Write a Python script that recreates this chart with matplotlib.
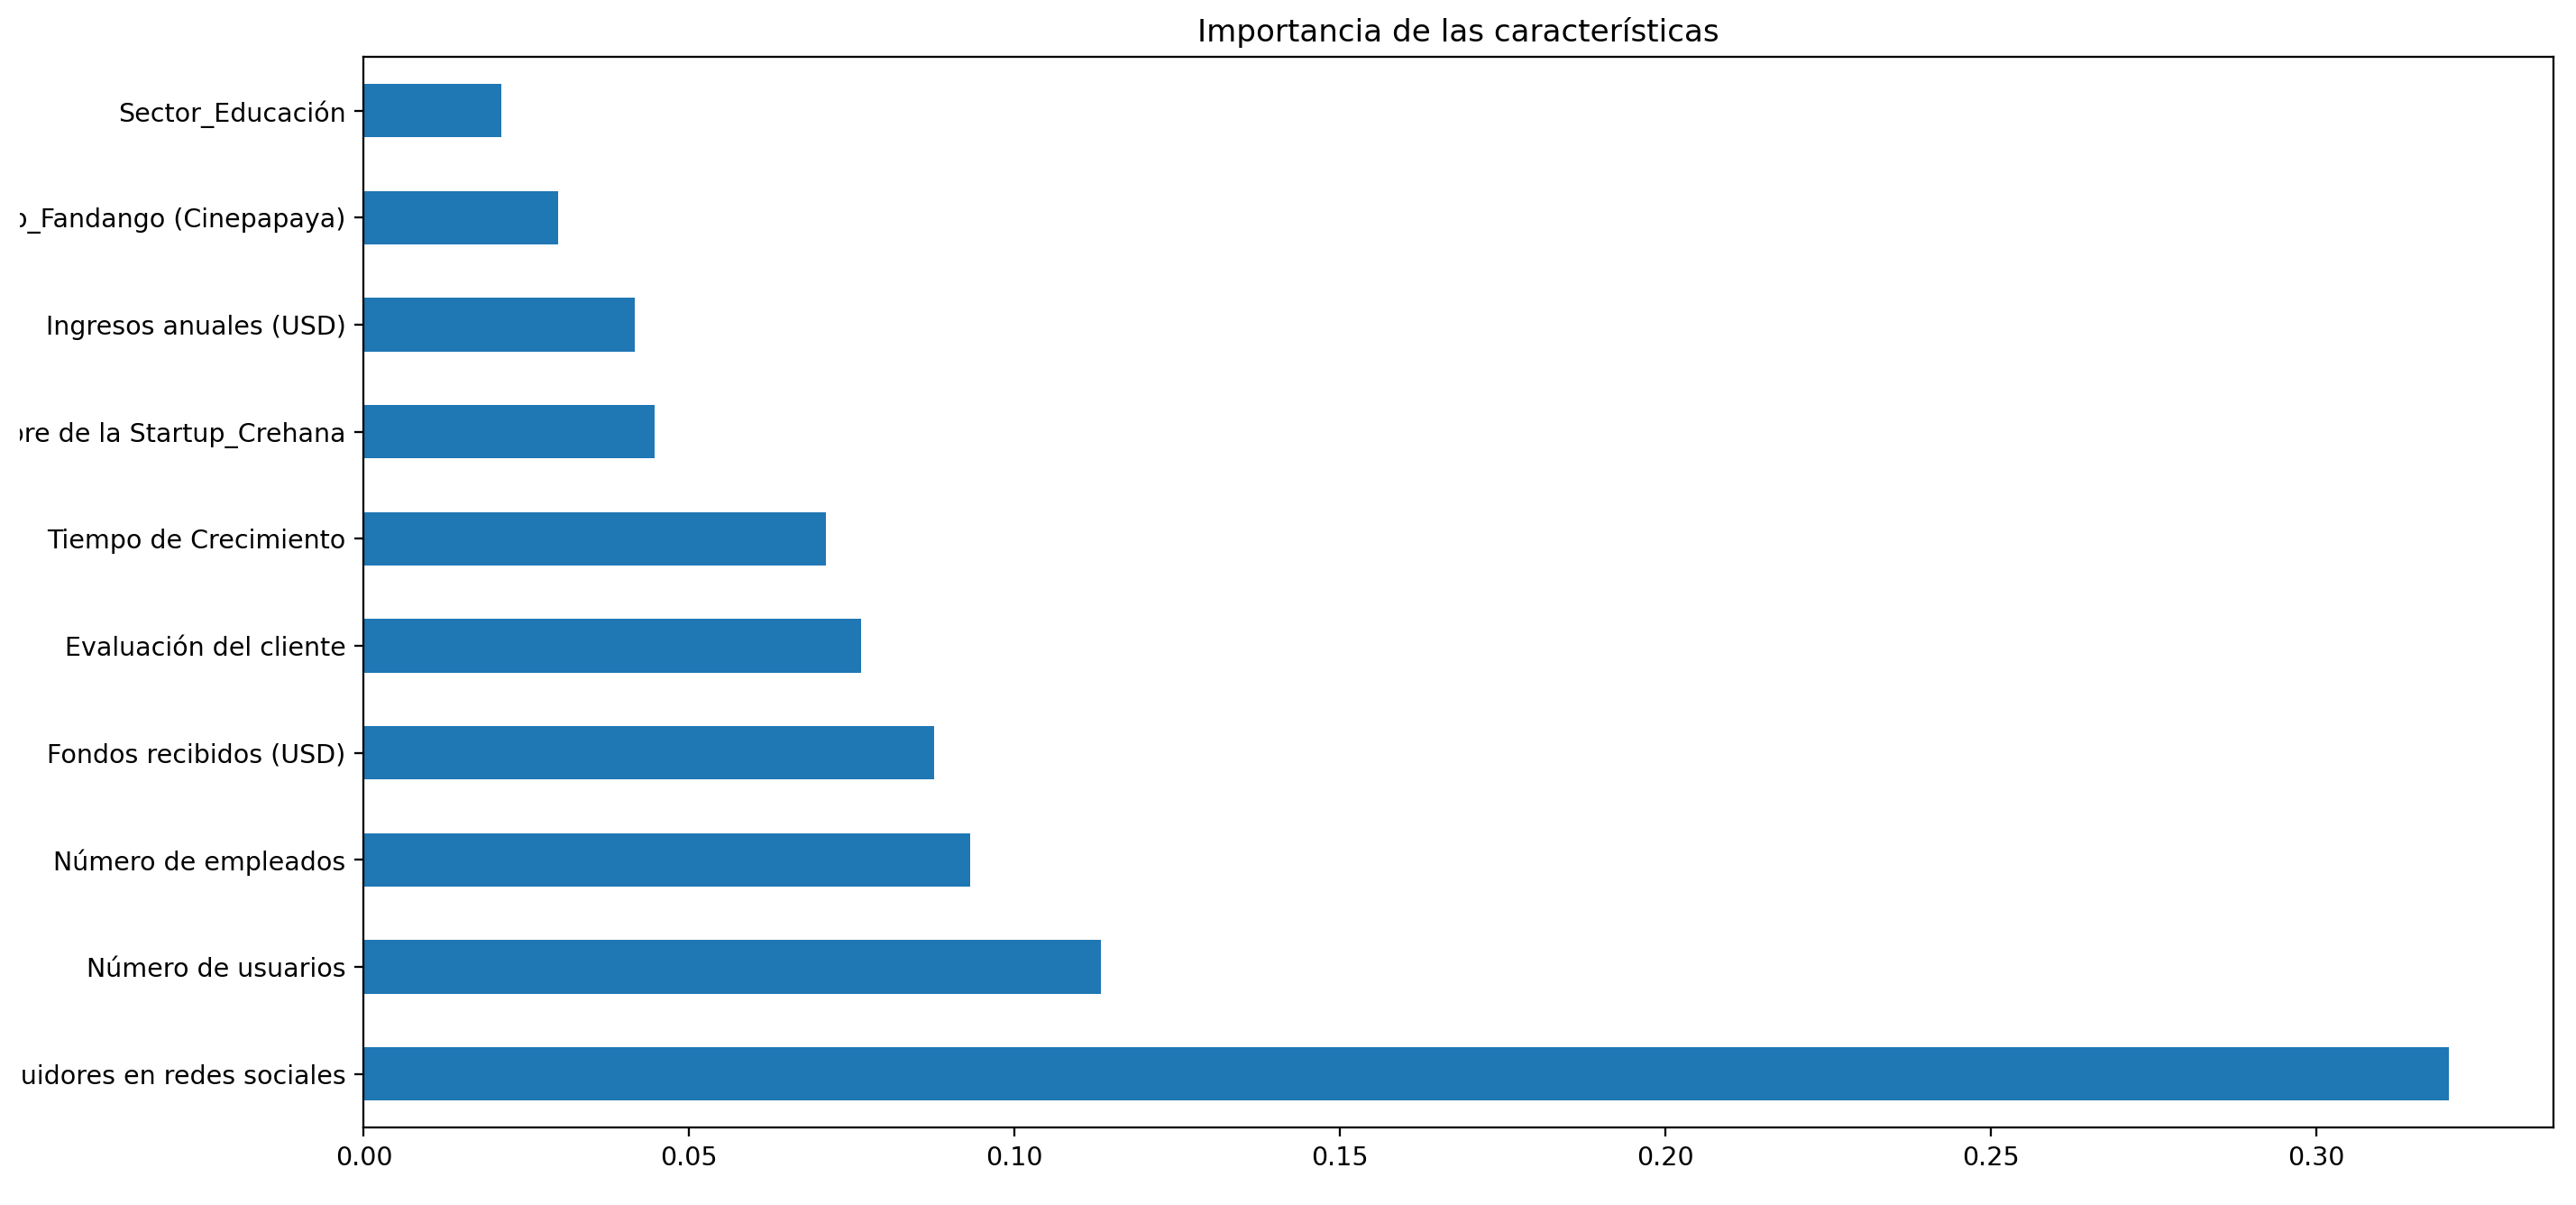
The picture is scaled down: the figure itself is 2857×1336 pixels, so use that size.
import matplotlib
matplotlib.use("Agg")
import matplotlib.pyplot as plt
from matplotlib.patches import Rectangle
import numpy as np

features = [
    "Número de seguidores en redes sociales",
    "Número de usuarios",
    "Número de empleados",
    "Fondos recibidos (USD)",
    "Evaluación del cliente",
    "Tiempo de Crecimiento",
    "Nombre de la Startup_Crehana",
    "Ingresos anuales (USD)",
    "Nombre de la Startup_Fandango (Cinepapaya)",
    "Sector_Educación",
]
importances = [0.3204, 0.1133, 0.0932, 0.0877, 0.0764, 0.0710, 0.0447, 0.0416, 0.0298, 0.0212]
title = "Importancia de las características"

DPI = 205
W, H = 2857, 1336
fig = plt.figure(figsize=(W / DPI, H / DPI), dpi=DPI)
ax = fig.add_axes([0.1412, 0.0644, 0.9912 - 0.1412, 0.9525 - 0.0644])

y = np.arange(len(features))
ax.barh(y, importances, height=0.5, color="#1f77b4")
ax.set_yticks(y)
ax.set_yticklabels(features)
ax.set_ylim(-0.5, len(features) - 0.5)
ax.set_xlim(0, max(importances) * 1.05)
ax.set_title(title)

# white left margin where the long labels are cut off in the reference
fig.add_artist(Rectangle((0, 0), 22 / W, 1, transform=fig.transFigure,
                         facecolor="white", edgecolor="none", zorder=10))

fig.savefig("out.png", dpi=DPI)
